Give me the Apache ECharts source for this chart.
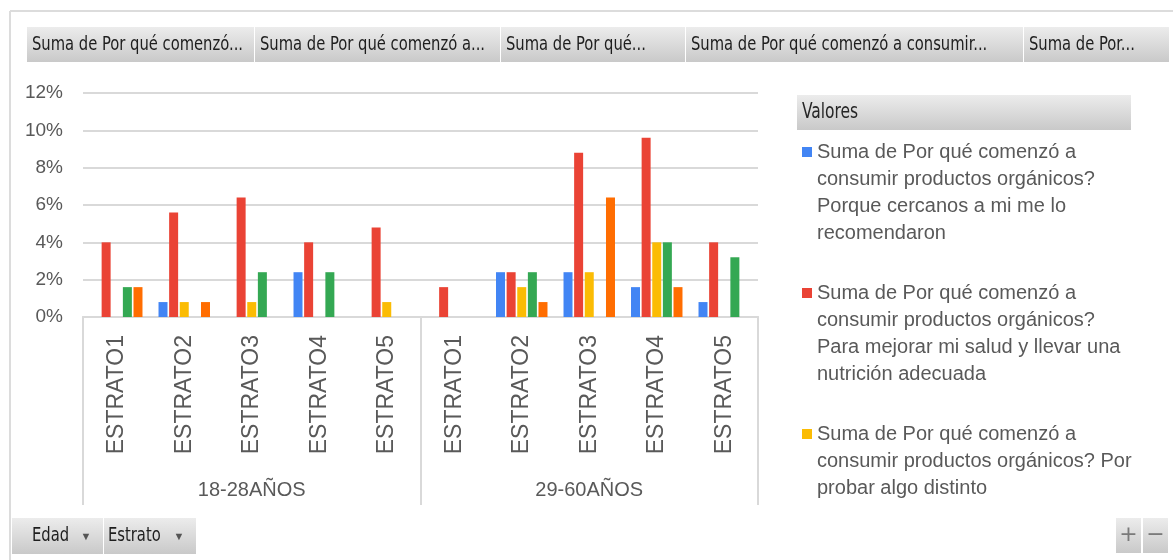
<!DOCTYPE html>
<html>
<head>
<meta charset="utf-8">
<script src="https://cdn.jsdelivr.net/npm/echarts@6/dist/echarts.min.js"></script>
<style>
  html, body { margin: 0; padding: 0; background: #fff; }
  #chart { width: 1173px; height: 560px; }
</style>
</head>
<body>
<div id="chart"></div>
<script>
// categorias (estrato) y grupos de edad
const estratos = ['ESTRATO1','ESTRATO2','ESTRATO3','ESTRATO4','ESTRATO5',
                  'ESTRATO1','ESTRATO2','ESTRATO3','ESTRATO4','ESTRATO5'];
const edades = ['18-28AÑOS', '29-60AÑOS'];
const yTicks = [0, 2, 4, 6, 8, 10, 12];

// valores en %
const cercanos  = [0, 0.8, 0, 2.4, 0,   0,   2.4, 2.4, 1.6, 0.8];
const salud     = [4.0, 5.6, 6.4, 4.0, 4.8, 1.6, 2.4, 8.8, 9.6, 4.0];
const probar    = [0, 0.8, 0.8, 0, 0.8, 0,   1.6, 2.4, 4.0, 0];
const serie4    = [1.6, 0, 2.4, 2.4, 0, 0,   2.4, 0,   4.0, 3.2];
const serie5    = [1.6, 0.8, 0, 0, 0,   0,   0.8, 6.4, 1.6, 0];

const legendLines = [
    ['Suma de Por qué comenzó a', 'consumir productos orgánicos?', 'Porque cercanos a mi me lo', 'recomendaron'],
    ['Suma de Por qué comenzó a', 'consumir productos orgánicos?', 'Para mejorar mi salud y llevar una', 'nutrición adecuada'],
    ['Suma de Por qué comenzó a', 'consumir productos orgánicos? Por', 'probar algo distinto']
];
const seriesNames = [
    legendLines[0].join(' '),
    legendLines[1].join(' '),
    legendLines[2].join(' '),
    'Suma de Por qué comenzó a consumir...',
    'Suma de Por...'
];
const fieldButtons = ['Suma de Por qué comenzó...', 'Suma de Por qué comenzó a...', 'Suma de Por qué...',
                      'Suma de Por qué comenzó a consumir...', 'Suma de Por...'];

const colors = ['#4285F4', '#EA4335', '#FBBC04', '#34A853', '#FF6D01'];
const cond = "'DejaVu Sans Condensed', 'DejaVu Sans', sans-serif";
const arial = "'Liberation Sans', Arial, sans-serif";
const gray = '#595959';

const myChart = echarts.init(document.getElementById('chart'));

function btnFill () {
    return new echarts.graphic.LinearGradient(0, 0, 0, 1, [
        { offset: 0, color: '#ececec' },
        { offset: 1, color: '#c9c9c9' }
    ]);
}
// texto angosto (comprimido en x) como en la captura
function btnText (txt, x, y, size, color) {
    return { type: 'text', x: x, y: y, scaleX: 0.82,
        style: { text: txt, fontSize: size, fontFamily: cond, fill: color, verticalAlign: 'middle' } };
}

// botones de campos (arriba)
const btnX = [[27, 254], [255, 500], [501, 685], [686, 1023], [1024, 1169]];
let graphics = [
    { type: 'line', shape: { x1: 10, y1: 11, x2: 1173, y2: 11 }, style: { stroke: '#dcdcdc', lineWidth: 2 } },
    { type: 'line', shape: { x1: 10, y1: 11, x2: 10, y2: 560 }, style: { stroke: '#dcdcdc', lineWidth: 2 } }
];
for (let i = 0; i < btnX.length; i++) {
    graphics.push({ type: 'rect', shape: { x: btnX[i][0], y: 27, width: btnX[i][1] - btnX[i][0], height: 35 }, style: { fill: btnFill() } });
    graphics.push(btnText(fieldButtons[i], btnX[i][0] + 5, 45, 20, '#1e1e1e'));
}
// encabezado de leyenda
graphics.push({ type: 'rect', shape: { x: 797, y: 95, width: 334, height: 35 }, style: { fill: btnFill() } });
graphics.push(btnText('Valores', 802, 113, 21, '#262626'));
// botones de abajo
const bottomBtns = [['Edad', 12, 103, 20], ['Estrato', 104, 196, 4]];
bottomBtns.forEach(function (b) {
    graphics.push({ type: 'rect', shape: { x: b[1], y: 518, width: b[2] - b[1], height: 36 }, style: { fill: btnFill() } });
    graphics.push(btnText(b[0], b[1] + b[3], 536, 20, '#1e1e1e'));
    graphics.push({ type: 'text', x: b[2] - 17, y: 537, style: { text: '▼', fontSize: 11, fill: '#555', verticalAlign: 'middle', align: 'center' } });
});
[['+', 1116], ['−', 1143]].forEach(function (b) {
    graphics.push({ type: 'rect', shape: { x: b[1], y: 518, width: 25, height: 35 }, style: { fill: btnFill() } });
    graphics.push({ type: 'text', x: b[1] + 12.5, y: 535, style: { text: b[0], fontSize: 22, fontFamily: 'DejaVu Sans', fill: '#7a7a7a', verticalAlign: 'middle', align: 'center' } });
});

let rich = {
    t: { fontSize: 20, fontFamily: arial, color: gray, lineHeight: 27 },
    p: { width: 15, height: 10 },
    g: { width: 5, height: 10 }
};
for (let i = 0; i < colors.length; i++) {
    rich['s' + i] = { width: 10, height: 10, backgroundColor: colors[i] };
}

let seriesData = [cercanos, salud, probar, serie4, serie5];
let series = [];
for (let i = 0; i < seriesData.length; i++) {
    series.push({
        name: seriesNames[i],
        type: 'bar',
        xAxisIndex: 0,
        barWidth: 9,
        barGap: '18%',
        itemStyle: { color: colors[i] },
        data: seriesData[i]
    });
}

let option = {
    animation: false,
    color: colors,
    graphic: graphics,
    grid: { left: 83, right: 415, top: 93, bottom: 243 },
    legend: {
        data: seriesNames.slice(0, 3),
        orient: 'vertical',
        left: 792,
        top: 137,
        icon: 'none',
        itemWidth: 0,
        itemGap: 40,
        selectedMode: false,
        textStyle: { rich: rich },
        formatter: function (name) {
            let idx = seriesNames.indexOf(name);
            let lines = legendLines[idx];
            return lines.map(function (l, k) {
                return (k === 0 ? '{s' + idx + '|}{g|}' : '{p|}') + '{t|' + l + '}';
            }).join('\n');
        }
    },
    xAxis: [
        {
            type: 'category',
            data: estratos,
            position: 'bottom',
            axisLine: { lineStyle: { color: '#d9d9d9', width: 2 } },
            axisTick: { show: false },
            axisLabel: {
                rotate: 90,
                margin: 18,
                interval: 0,
                color: gray,
                fontSize: 23,
                fontFamily: arial
            }
        },
        {
            type: 'category',
            data: edades,
            position: 'bottom',
            offset: 0,
            axisLine: { show: true, lineStyle: { color: '#d9d9d9', width: 2 } },
            axisTick: { show: true, interval: 0, alignWithLabel: false, length: 188, lineStyle: { color: '#d9d9d9', width: 2 } },
            axisLabel: { margin: 163, color: gray, fontSize: 20, fontFamily: arial }
        }
    ],
    yAxis: {
        type: 'value',
        min: yTicks[0],
        max: yTicks[yTicks.length - 1],
        interval: 2,
        axisLine: { show: false },
        axisTick: { show: false },
        axisLabel: { formatter: '{value}%', color: gray, fontSize: 19, fontFamily: arial, margin: 20 },
        splitLine: { lineStyle: { color: '#d9d9d9', width: 2 } }
    },
    series: series
};

myChart.setOption(option);
</script>
</body>
</html>
